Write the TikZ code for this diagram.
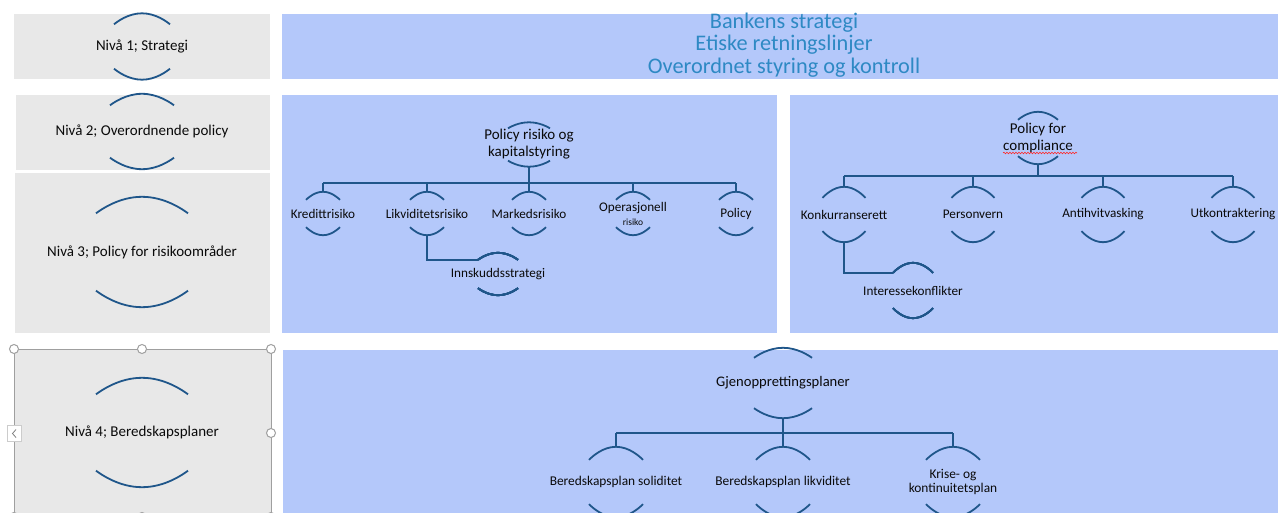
\documentclass[tikz,border=0pt]{standalone}
\usepackage{fontspec}
\setmainfont{Carlito}
\usepackage{tikz}
\usetikzlibrary{decorations.pathmorphing}

\definecolor{panelblue}{RGB}{180,200,250}
\definecolor{panelgray}{RGB}{232,232,232}
\definecolor{linkblue}{RGB}{31,86,138}
\definecolor{titleblue}{RGB}{46,137,196}
\definecolor{inktext}{RGB}{10,10,10}

\tikzset{
	panel/.style = {fill=panelblue},
	lvlbox/.style = {fill=panelgray},
	chartnode/.style = {inner sep=0pt, minimum height=#1, align=center, text=inktext, font=\fontsize{13.2}{14}\selectfont},
	rootnode/.style = {chartnode=#1, font=\fontsize{15}{17}\selectfont},
	lvlnode/.style = {chartnode=#1, font=\fontsize{15}{18}\selectfont},
	arcline/.style = {draw=linkblue, line width=1.8pt},
	conn/.style = {draw=linkblue, line width=1.8pt},
	handle/.style = {draw=gray!75, fill=white, line width=1pt},
}

% arcs above and below a node: name, half width, sag
\newcommand\nodearcs[3]{%
	\draw [arcline] ([shift={(-#2,#3)}]#1.north) parabola bend (#1.north) ([shift={(#2,#3)}]#1.north);
	\draw [arcline] ([shift={(-#2,-#3)}]#1.south) parabola bend (#1.south) ([shift={(#2,-#3)}]#1.south);
}

\begin{document}
\begin{tikzpicture}[x=1pt, y=-1pt]
	\useasboundingbox (0,0) rectangle (1278,513);
	\fill [white] (0,0) rectangle (1278,513);

	% level column
	\fill [lvlbox] (14,14) rectangle (270,79);
	\fill [lvlbox] (16,95) rectangle (270,170);
	\fill [lvlbox] (15,173) rectangle (270,333);
	\fill [lvlbox] (14,349) rectangle (271,520);
	% panels
	\fill [panel] (282,14) rectangle (1278,79);
	\fill [panel] (282,95) rectangle (777,333);
	\fill [panel] (790,95) rectangle (1278,333);
	\fill [panel] (283,350) rectangle (1278,520);

	\node [lvlnode=66] (Niva1) at (142,46.5) {Nivå 1; Strategi};
	\node [lvlnode=75] (Niva2) at (142,131.5) {Nivå 2; Overordnende policy};
	\node [lvlnode=110] (Niva3) at (142,252) {Nivå 3; Policy for risikoområder};
	\node [lvlnode=109] (Niva4) at (142,432.5) {Nivå 4; Beredskapsplaner};
	\nodearcs{Niva1}{28}{11}
	\nodearcs{Niva2}{32}{11.5}
	\nodearcs{Niva3}{46}{16.5}
	\nodearcs{Niva4}{46}{16.5}

	% selection frame round level 4
	\draw [gray!75, line width=0.9pt] (14,349) rectangle (271,530);
	\foreach \hx/\hy in {14/349, 142/349, 271/349, 271/433, 14/517, 142/517, 271/517}
		\draw [handle] (\hx,\hy) circle [radius=4.5pt];
	\draw [draw=gray!40, fill=white] (7,425) rectangle (21,441);
	\draw [gray, line width=0.8pt] (16,429.5) -- (12.5,433.5) -- (16,437.5);

	\node [font=\fontsize{22.3}{22.5}\selectfont, text=titleblue, align=center] (Strategi) at (784,45) {Bankens strategi\\Etiske retningslinjer\\Overordnet styring og kontroll};

	% risk policy
	\node [rootnode=44] (Risiko) at (529,144.5) {Policy risiko og\\kapitalstyring};
	\node [chartnode=43] (Kreditt) at (323,213.5) {Kredittrisiko};
	\node [chartnode=43] (Likviditet) at (427,213.5) {Likviditetsrisiko};
	\node [chartnode=43] (Marked) at (529,213.5) {Markedsrisiko};
	\node [chartnode=43] (Operasjonell) at (633,213.5) {Operasjonell\\{\fontsize{9.5}{10}\selectfont risiko}};
	\node [chartnode=43] (Policy) at (736,213.5) {Policy};
	\node [chartnode=42] (Innskudd) at (498,274) {Innskuddsstrategi};
	\nodearcs{Risiko}{21}{6}
	\foreach \n in {Kreditt, Likviditet, Marked, Operasjonell, Policy}
		\nodearcs{\n}{17}{8}
	\nodearcs{Innskudd}{20}{7}
	\coordinate (BusRisiko) at (529,183);
	\draw [conn] (Risiko.south) -- (BusRisiko);
	\draw [conn] (Kreditt.north |- BusRisiko) -- (Policy.north |- BusRisiko);
	\foreach \n in {Kreditt, Likviditet, Marked, Operasjonell, Policy}
		\draw [conn] (\n.north) -- (\n.north |- BusRisiko);
	\draw [conn] (Likviditet.south) |- ([shift={(-20,7)}]Innskudd.north);

	% compliance
	\node [rootnode=52] (Compliance) at (1038,138) {Policy for\\compliance};
	\node [chartnode=55] (Konkurranse) at (844,214.5) {Konkurranserett};
	\node [chartnode=55] (Personvern) at (973,214.5) {Personvern};
	\node [chartnode=55] (Antihvit) at (1103,214.5) {Antihvitvasking};
	\node [chartnode=55] (Utkontrakt) at (1233,214.5) {Utkontraktering};
	\node [chartnode=55] (Interesse) at (913,290.5) {Interessekonflikter};
	\draw [red!85, line width=0.6pt, decorate, decoration={snake, amplitude=0.8pt, segment length=3pt}] (1003,153) -- (1077,153);
	\nodearcs{Compliance}{20}{8}
	\foreach \n in {Konkurranse, Personvern, Antihvit, Utkontrakt}
		\nodearcs{\n}{21.5}{11}
	\nodearcs{Interesse}{20}{10}
	\coordinate (BusCompliance) at (1038,176);
	\draw [conn] (Compliance.south) -- (BusCompliance);
	\draw [conn] (Konkurranse.north |- BusCompliance) -- (Utkontrakt.north |- BusCompliance);
	\foreach \n in {Konkurranse, Personvern, Antihvit, Utkontrakt}
		\draw [conn] (\n.north) -- (\n.north |- BusCompliance);
	\draw [conn] (Konkurranse.south) |- ([shift={(-20,10)}]Interesse.north);

	% contingency plans
	\node [rootnode=70, font=\fontsize{14.6}{17}\selectfont] (Gjenoppretting) at (783,383) {Gjenopprettingsplaner};
	\node [chartnode=70, font=\fontsize{13.4}{14}\selectfont] (Soliditet) at (616,482) {Beredskapsplan soliditet};
	\node [chartnode=70, font=\fontsize{13.4}{14}\selectfont] (LikvPlan) at (783,482) {Beredskapsplan likviditet};
	\node [chartnode=70, font=\fontsize{13.4}{13.5}\selectfont] (Krise) at (953,482) {Krise- og\\kontinuitetsplan};
	\nodearcs{Gjenoppretting}{29}{10}
	\foreach \n in {Soliditet, LikvPlan, Krise}
		\nodearcs{\n}{27}{13}
	\coordinate (BusPlan) at (783,433);
	\draw [conn] (Gjenoppretting.south) -- (BusPlan);
	\draw [conn] (Soliditet.north |- BusPlan) -- (Krise.north |- BusPlan);
	\foreach \n in {Soliditet, LikvPlan, Krise}
		\draw [conn] (\n.north) -- (\n.north |- BusPlan);
%	\draw [conn] () |- ();
\end{tikzpicture}
\end{document}
